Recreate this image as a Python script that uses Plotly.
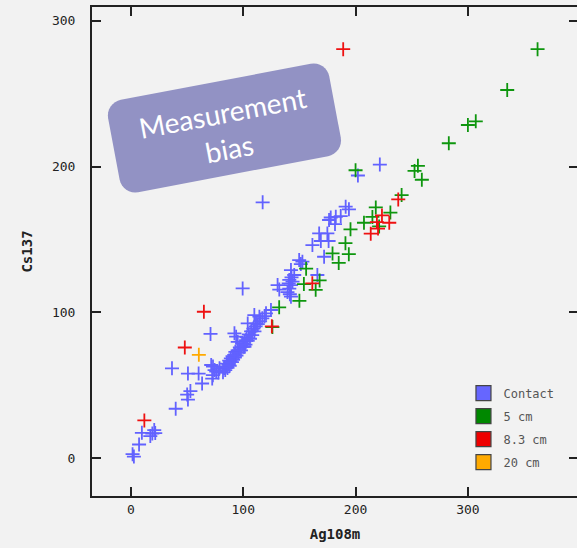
import math
import plotly.graph_objects as go

# ---------------- data ----------------
contact_x = [1.5, 2.7, 7.3, 9.8, 17.3, 19.1, 20.8, 21.7, 39.9, 50.1, 50.8, 53, 36.6, 50.8, 60.3, 63.4,
             70.9, 73.1, 72.4, 78, 76, 71.5, 73, 74.5, 78.9,
             99.5, 117.3, 221.6, 202.1,
             92.2, 93.7, 95.1, 104, 109.9, 114.4, 120.3, 124.7, 101.1, 102.6, 111.4,
             82, 83, 84, 85, 85.5, 86, 87, 87.5, 88, 88.5, 89, 90, 90.5, 91, 92, 92.5, 93, 94, 95, 96,
             97, 98, 99, 100, 101, 102, 103, 104, 105, 106, 107, 108, 109, 110, 111, 113, 115, 117, 119,
             191.2, 194.1, 186.8, 182.4, 177.9, 176.4, 181.7, 167.6, 174.9, 169.1, 176, 161.6, 172,
             149.8, 152.7, 151.3, 142.5, 145.4, 141, 143.9, 142.5, 141, 139.4, 142.5, 130.6, 132.1,
             166, 140.5, 143, 141.5]
contact_y = [2.9, 1.2, 9.5, 17.5, 15.3, 17, 19.4, 17.3, 34, 43.7, 40.3, 46.1, 61.7, 58.1, 58.1, 51.3,
             85.3, 62.9, 54.7, 58.8, 59.4, 64, 57, 60.5, 61.7,
             116.5, 175.5, 201.4, 193.9,
             85.7, 83.4, 79.9, 92.5, 98.2, 97.1, 99.4, 101.7, 76.5, 81.1, 92.5,
             59, 62, 60.5, 63, 65, 62, 64.5, 67, 63.5, 66, 68.5, 66, 70, 67.5, 71, 69, 73, 70.5, 74, 72.5,
             76, 74, 78.5, 76.5, 80, 78, 83, 80.5, 85, 82, 87, 84.5, 89, 87, 90.5, 92, 94, 96, 97.5,
             172.5, 170.7, 166.1, 165.6, 165.1, 163.4, 160.6, 154.2, 154.2, 149, 149, 146.2, 138.2,
             135.9, 134.8, 133.2, 129.1, 125.7, 122.3, 121.1, 118.8, 116.4, 114, 110.8, 118.8, 115.7,
             125.7, 120, 124, 112.5]

cm5_x = [362, 335, 300, 307, 283, 255.5, 252.5, 259, 200, 241, 218, 231, 215, 207.5, 221, 195.5,
         191, 194, 179.5, 185, 156, 168, 154, 164.5, 150, 132, 126]
cm5_y = [280.5, 252.5, 228.5, 231, 216, 200.5, 197, 191, 197.5, 180.5, 172, 168.5, 165.5, 161.5, 159, 157,
         147.5, 140, 140.5, 134, 130, 122, 119.5, 115.5, 108, 103.5, 90]

cm83_x = [189, 65, 48, 12, 125.5, 238, 223.5, 219, 230, 213.5, 220, 161.5]
cm83_y = [280.5, 100.5, 76, 26, 90.5, 177.5, 166.5, 162, 161.5, 154, 157.5, 120]

cm20_x = [60.5]
cm20_y = [71]

series_names = ["Contact", "5 cm", "8.3 cm", "20 cm"]
marker_colors = ["#6262ff", "#0e960e", "#ee1111", "#ffaa00"]
legend_colors = ["#6666ff", "#008800", "#ee0000", "#ffaa00"]

x_ticks = [0, 100, 200, 300]
y_ticks = [0, 100, 200, 300]

# ---------------- figure ----------------
# the plot area runs slightly past the 577px window so its right frame line is cropped off
W, H = 580, 548
L, R, T, B = 92, 0, 7, 52
PW, PH = W - L - R, H - T - B

fig = go.Figure()
for xs, ys, name, col in zip([contact_x, cm5_x, cm83_x, cm20_x],
                             [contact_y, cm5_y, cm83_y, cm20_y],
                             series_names, marker_colors):
    fig.add_trace(go.Scatter(
        x=xs, y=ys, mode="markers", name=name, showlegend=False,
        marker=dict(symbol="cross-thin", size=10, line=dict(width=1.8, color=col), color=col),
        hoverinfo="x+y"))

for name, col in zip(series_names, legend_colors):
    fig.add_trace(go.Scatter(
        x=[None], y=[None], mode="markers", name=name, showlegend=True,
        legendgroup=name,
        marker=dict(symbol="square", size=15, color=col, line=dict(width=1.2, color="#444444"))))


def px2paper(px, py):
    return (px - L) / PW, (T + PH - py) / PH


# rounded, rotated "Measurement bias" box (pixel geometry)
cx, cy, bw, bh, ang, rad = 225, 128, 226, 94, math.radians(10.7), 16
pts = []
corners = [(bw / 2 - rad, -bh / 2 + rad, -90), (bw / 2 - rad, bh / 2 - rad, 0),
           (-bw / 2 + rad, bh / 2 - rad, 90), (-bw / 2 + rad, -bh / 2 + rad, 180)]
for ux, vy, a0 in corners:
    for k in range(9):
        a = math.radians(a0 + k * 90 / 8)
        pts.append((ux + rad * math.cos(a), vy + rad * math.sin(a)))
path = ""
for i, (u, v) in enumerate(pts):
    sx = cx + u * math.cos(ang) + v * math.sin(ang)
    sy = cy - u * math.sin(ang) + v * math.cos(ang)
    qx, qy = px2paper(sx, sy)
    path += ("M" if i == 0 else "L") + f"{qx:.5f},{qy:.5f}"
path += "Z"
fig.add_shape(type="path", path=path, xref="paper", yref="paper",
              fillcolor="#9292c4", line=dict(width=0), layer="above")
tx, ty = px2paper(227, 130)
fig.add_annotation(x=tx, y=ty, xref="paper", yref="paper", text="Measurement<br>bias",
                   showarrow=False, textangle=-10.7, xanchor="center", yanchor="middle",
                   font=dict(family="Lato", size=28, color="white"))

axis_common = dict(showline=True, linecolor="#222222", linewidth=2, mirror="ticks",
                   ticks="inside", ticklen=9, tickwidth=2, tickcolor="#222222",
                   showgrid=False, zeroline=False,
                   tickfont=dict(family="DejaVu Sans Mono", size=13, color="#222222"))

lx, _ = px2paper(465, 0)

fig.update_layout(
    width=W, height=H,
    margin=dict(l=L, r=R, t=T, b=B, pad=0),
    paper_bgcolor="#f2f2f2", plot_bgcolor="#f2f2f2",
    xaxis=dict(range=[-34.6, 398.0], tickvals=x_ticks,
               title=dict(text="<b>Ag108m</b>", standoff=14,
                          font=dict(family="DejaVu Sans Mono", size=14, color="#222222")),
               **axis_common),
    yaxis=dict(range=[-25.8, 309.4], tickvals=y_ticks, ticklabelstandoff=12,
               title=dict(text="<b>Cs137</b>", standoff=16,
                          font=dict(family="DejaVu Sans Mono", size=14, color="#222222")),
               **axis_common),
    legend=dict(x=lx, y=0.24, xanchor="left", yanchor="top", bgcolor="rgba(0,0,0,0)",
                font=dict(family="DejaVu Sans Mono", size=12, color="#555555"),
                tracegroupgap=4, itemwidth=30),
    showlegend=True,
)

fig.write_html("out.html", config={"displayModeBar": False},
               post_script="document.body.style.margin='0';document.body.style.overflow='hidden';"
                           "document.body.style.background='#f2f2f2';")
